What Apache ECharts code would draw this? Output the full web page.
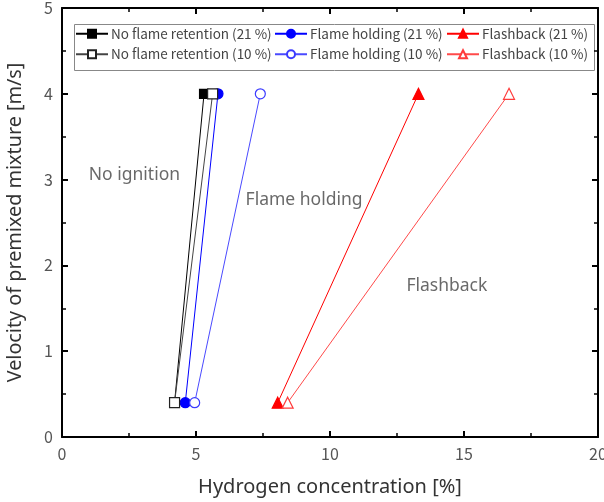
<!DOCTYPE html>
<html>
<head>
<meta charset="utf-8">
<script src="https://cdn.jsdelivr.net/npm/echarts@6/dist/echarts.min.js"></script>
<style>html,body{margin:0;padding:0;background:#fff}#c{width:604px;height:502px}</style>
</head>
<body>
<div id="c"></div>
<script>
// Data
const seriesNames = [
  'No flame retention (21 %)', 'Flame holding (21 %)', 'Flashback (21 %)',
  'No flame retention (10 %)', 'Flame holding (10 %)', 'Flashback (10 %)'
];
const velocity = [0.4, 4];
const nfr21 = [4.2, 5.3];
const fh21 = [4.6, 5.82];
const fb21 = [8.05, 13.3];
const nfr10 = [4.2, 5.62];
const fh10 = [4.95, 7.4];
const fb10 = [8.42, 16.68];
const regionLabels = ['No ignition', 'Flame holding', 'Flashback'];
const regionX = [1.0, 6.85, 12.85];
const regionY = [3.05, 2.76, 1.76];

const FONT = '"Noto Sans CJK JP", "Noto Sans", sans-serif';
const FONT2 = '"Noto Sans", "Noto Sans CJK JP", sans-serif';

function pts(xs) { return xs.map((x, i) => [x, velocity[i]]); }

function mk(name, xs, color, symbol, size, filled, lineColor) {
  return {
    name: name, type: 'line', data: pts(xs),
    symbol: symbol, symbolSize: size,
    itemStyle: { color: filled ? color : '#fff', borderColor: color, borderWidth: 1.2 },
    lineStyle: { color: lineColor || color, width: 1 },
    z: filled ? 3 : 4,
    animation: false
  };
}

const chart = echarts.init(document.getElementById('c'));
function axisCommon() {
  return {
    min: 0,
    axisLine: { show: true, onZero: false, lineStyle: { color: '#000', width: 2 } },
    axisTick: { show: true, inside: true, length: 6, lineStyle: { color: '#000', width: 2 } },
    minorTick: { show: true, splitNumber: 2, length: 4, lineStyle: { color: '#000', width: 1.5 } },
    splitLine: { show: false },
    axisLabel: { color: '#555', fontSize: 16, fontFamily: FONT, margin: 9 }
  };
}

const legendCommon = {
  orient: 'vertical', top: 27, itemGap: 7, itemWidth: 32, itemHeight: 10,
  textStyle: { fontSize: 13.5, color: '#444', fontFamily: FONT, padding: [0, 0, 0, -2] },
  padding: 0
};

const option = {
  backgroundColor: '#fff',
  animation: false,
  grid: { left: 62, right: 6, top: 8, bottom: 65, containLabel: false, outerBoundsMode: 'none' },
  legend: [
    Object.assign({}, legendCommon, { left: 75, data: [seriesNames[0], seriesNames[3]] }),
    Object.assign({}, legendCommon, { left: 274, data: [seriesNames[1], seriesNames[4]] }),
    Object.assign({}, legendCommon, { left: 446, data: [seriesNames[2], seriesNames[5]] })
  ],
  graphic: [{
    type: 'rect', left: 72, top: 22, silent: true,
    shape: { width: 520, height: 46 },
    style: { fill: 'none', stroke: '#888', lineWidth: 1 }
  }],
  xAxis: [
    Object.assign(axisCommon(), {
      type: 'value', max: 20, interval: 5, position: 'bottom',
      name: 'Hydrogen concentration [%]', nameLocation: 'middle', nameGap: 40,
      nameTextStyle: { fontSize: 20, color: '#333', fontFamily: FONT2 }
    }),
    Object.assign(axisCommon(), {
      type: 'value', max: 20, interval: 5, position: 'top',
      axisLabel: { show: false }
    })
  ],
  yAxis: [
    Object.assign(axisCommon(), {
      type: 'value', max: 5, interval: 1, position: 'left',
      name: 'Velocity of premixed mixture [m/s]', nameLocation: 'middle', nameGap: 37,
      nameTextStyle: { fontSize: 19.8, color: '#333', fontFamily: FONT2 }
    }),
    Object.assign(axisCommon(), {
      type: 'value', max: 5, interval: 1, position: 'right',
      axisLabel: { show: false }
    })
  ],
  series: [
    mk(seriesNames[0], nfr21, '#000', 'rect', 9, true),
    mk(seriesNames[1], fh21, '#0000ff', 'circle', 10, true),
    mk(seriesNames[2], fb21, '#ff0000', 'triangle', 11, true),
    mk(seriesNames[3], nfr10, '#222', 'rect', 10, false, '#444'),
    mk(seriesNames[4], fh10, '#3b3bff', 'circle', 10, false, '#4a4aff'),
    mk(seriesNames[5], fb10, '#ff3b3b', 'triangle', 11, false, '#ff4a4a'),
    {
      type: 'scatter', symbolSize: 0, silent: true, z: 1,
      data: regionLabels.map((t, i) => ({ name: t, value: [regionX[i], regionY[i]] })),
      label: {
        show: true, position: 'right', distance: 0, formatter: p => p.name,
        fontSize: 17.5, color: '#444', fontFamily: FONT2
      }
    }
  ]
};
chart.setOption(option);
</script>
</body>
</html>
